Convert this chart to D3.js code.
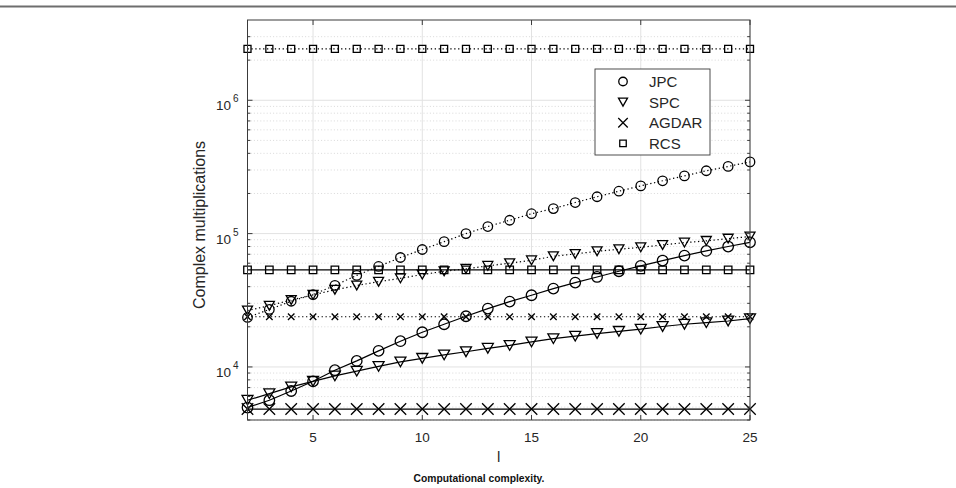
<!DOCTYPE html>
<html>
<head>
<meta charset="utf-8">
<script src="https://cdn.jsdelivr.net/npm/d3@7"></script>
<style>
    body { margin: 0; background: #fff; }
    svg { font-family: "Liberation Sans", Arial, sans-serif; }
    .grid-major { stroke: #e2e2e2; stroke-width: 1; }
    .grid-minor { stroke: #cfcfcf; stroke-width: 0.8; stroke-dasharray: 1, 2.2; }
    .frame { fill: none; stroke: #3a3a3a; stroke-width: 1; }
    .tick { stroke: #3a3a3a; stroke-width: 1; }
    .ticklabel { fill: #262626; font-size: 13.5px; }
    .label { fill: #262626; font-size: 15px; }
    .ylabel { fill: #262626; font-size: 16px; }
    .series { fill: none; stroke: #000; stroke-width: 1.2; }
    .dotted { stroke-dasharray: 1.3, 2.6; }
    .marker { fill: none; stroke: #000; stroke-width: 1.3; }
    .caption { font-size: 10.3px; font-weight: bold; fill: #111; }
</style>
</head>
<body>
<svg id="chart" width="956" height="488"></svg>
<script>
// number of paths l
const lValues = [2, 3, 4, 5, 6, 7, 8, 9, 10, 11, 12, 13, 14, 15, 16, 17, 18, 19, 20, 21, 22, 23, 24, 25];

// dotted curves (upper group)
const jpcDotted = [23500, 27000, 31100, 34900, 40900, 48600, 56700, 66200, 76000, 87000, 100000, 113000,
    126000, 141000, 154000, 171000, 189000, 208000, 228000, 249000, 271000, 296000, 319000, 345000];
const spcDotted = [26500, 28800, 31800, 34700, 37900, 40800, 43600, 46200, 49300, 52200, 54400, 57300,
    60000, 63000, 67600, 70400, 73700, 76300, 78900, 82200, 85600, 88200, 91700, 95000];
const agdarDotted = [23800, 23800, 23800, 23800, 23800, 23800, 23800, 23800, 23800, 23800, 23800, 23800,
    23800, 23800, 23800, 23800, 23800, 23800, 23800, 23800, 23800, 23800, 23800, 23800];
const rcsDotted = [2430000, 2430000, 2430000, 2430000, 2430000, 2430000, 2430000, 2430000, 2430000, 2430000,
    2430000, 2430000, 2430000, 2430000, 2430000, 2430000, 2430000, 2430000, 2430000, 2430000, 2430000,
    2430000, 2430000, 2430000];

// solid curves (lower group)
const jpcSolid = [4960, 5630, 6600, 7800, 9450, 11100, 13200, 15600, 18200, 20900, 24000, 27400,
    30900, 34500, 38700, 42900, 47300, 52200, 57300, 62800, 68400, 74200, 80000, 86000];
const spcSolid = [5630, 6300, 7080, 7800, 8570, 9300, 10100, 10900, 11600, 12300, 13000, 13800,
    14500, 15400, 16300, 17000, 17800, 18500, 19200, 20100, 20900, 21500, 22100, 23000];
const agdarSolid = [4830, 4830, 4830, 4830, 4830, 4830, 4830, 4830, 4830, 4830, 4830, 4830,
    4830, 4830, 4830, 4830, 4830, 4830, 4830, 4830, 4830, 4830, 4830, 4830];
const rcsSolid = [53400, 53400, 53400, 53400, 53400, 53400, 53400, 53400, 53400, 53400, 53400, 53400,
    53400, 53400, 53400, 53400, 53400, 53400, 53400, 53400, 53400, 53400, 53400, 53400];

const legendNames = ["JPC", "SPC", "AGDAR", "RCS"];
const xTicks = [5, 10, 15, 20, 25];
const yMajor = [1e4, 1e5, 1e6];
const yDomain = [4000, 4e6];

const attr = {
    left: 247.5,
    right: 750,
    top: 20,
    bottom: 420
};

const x = d3.scaleLinear().domain([2, 25]).range([attr.left, attr.right]);
const y = d3.scaleLog().domain(yDomain).range([attr.bottom, attr.top]);

const svg = d3.select("#chart");

// rule at top of figure
svg.append("line")
    .attr("x1", 0).attr("x2", 956)
    .attr("y1", 6.5).attr("y2", 6.5)
    .attr("stroke", "#6e6e6e")
    .attr("stroke-width", 2);

// minor tick values
let yMinor = [];
for (let e = 3; e <= 6; e++) {
    for (let m = 2; m <= 9; m++) {
        let v = m * Math.pow(10, e);
        if (v > yDomain[0] * 0.999 && v < yDomain[1]) yMinor.push(v);
    }
}

const grid = svg.append("g");

grid.selectAll(".gm")
    .data(yMinor)
    .enter()
    .append("line")
    .attr("class", "grid-minor")
    .attr("x1", attr.left).attr("x2", attr.right)
    .attr("y1", d => y(d)).attr("y2", d => y(d));

grid.selectAll(".gy")
    .data(yMajor)
    .enter()
    .append("line")
    .attr("class", "grid-major")
    .attr("x1", attr.left).attr("x2", attr.right)
    .attr("y1", d => y(d)).attr("y2", d => y(d));

grid.selectAll(".gx")
    .data(xTicks)
    .enter()
    .append("line")
    .attr("class", "grid-major")
    .attr("x1", d => x(d)).attr("x2", d => x(d))
    .attr("y1", attr.top).attr("y2", attr.bottom);

// series
const series = [
    { values: jpcDotted, dash: true, marker: "circle", size: 9.5 },
    { values: spcDotted, dash: true, marker: "triangle", size: 10 },
    { values: agdarDotted, dash: true, marker: "x", size: 6.5 },
    { values: rcsDotted, dash: true, marker: "square", size: 7 },
    { values: jpcSolid, dash: false, marker: "circle", size: 10.5 },
    { values: spcSolid, dash: false, marker: "triangle", size: 11 },
    { values: agdarSolid, dash: false, marker: "x", size: 11.5 },
    { values: rcsSolid, dash: false, marker: "square", size: 7.5 }
];

const markerPath = function(type, cx, cy, s) {
    let h = s / 2;
    if (type === "triangle") {
        let th = s * 0.88 / 2;
        return "M" + (cx - h) + "," + (cy - th) + "L" + (cx + h) + "," + (cy - th) +
            "L" + cx + "," + (cy + th) + "Z";
    }
    if (type === "x") {
        return "M" + (cx - h) + "," + (cy - h) + "L" + (cx + h) + "," + (cy + h) +
            "M" + (cx - h) + "," + (cy + h) + "L" + (cx + h) + "," + (cy - h);
    }
    // square
    return "M" + (cx - h) + "," + (cy - h) + "h" + s + "v" + s + "h" + -s + "Z";
};

const drawMarker = function(g, type, cx, cy, s) {
    if (type === "circle") {
        g.append("circle")
            .attr("class", "marker")
            .attr("cx", cx).attr("cy", cy).attr("r", s / 2);
    } else {
        g.append("path")
            .attr("class", "marker")
            .attr("d", markerPath(type, cx, cy, s));
    }
};

const line = d3.line()
    .x((d, i) => x(lValues[i]))
    .y(d => y(d));

const plot = svg.append("g");

series.forEach(function(s) {
    plot.append("path")
        .datum(s.values)
        .attr("class", s.dash ? "series dotted" : "series")
        .attr("d", line);
});

series.forEach(function(s) {
    let g = plot.append("g");
    s.values.forEach(function(v, i) {
        drawMarker(g, s.marker, x(lValues[i]), y(v), s.size);
    });
});

// frame and ticks
svg.append("rect")
    .attr("class", "frame")
    .attr("x", attr.left).attr("y", attr.top)
    .attr("width", attr.right - attr.left)
    .attr("height", attr.bottom - attr.top);

const ticks = svg.append("g");
const addTick = function(x1, y1, x2, y2) {
    ticks.append("line").attr("class", "tick")
        .attr("x1", x1).attr("y1", y1).attr("x2", x2).attr("y2", y2);
};

xTicks.forEach(function(t) {
    addTick(x(t), attr.bottom, x(t), attr.bottom - 5);
    addTick(x(t), attr.top, x(t), attr.top + 5);
});
yMajor.forEach(function(t) {
    addTick(attr.left, y(t), attr.left + 5, y(t));
    addTick(attr.right, y(t), attr.right - 5, y(t));
});
yMinor.forEach(function(t) {
    addTick(attr.left, y(t), attr.left + 2.8, y(t));
    addTick(attr.right, y(t), attr.right - 2.8, y(t));
});

// tick labels
svg.append("g")
    .selectAll("text")
    .data(xTicks)
    .enter()
    .append("text")
    .attr("class", "ticklabel")
    .attr("x", d => x(d))
    .attr("y", attr.bottom + 22)
    .attr("text-anchor", "middle")
    .text(d => d);

let yl = svg.append("g")
    .selectAll("text")
    .data(yMajor)
    .enter()
    .append("text")
    .attr("class", "ticklabel")
    .attr("x", attr.left - 9)
    .attr("y", d => y(d) + 10)
    .attr("text-anchor", "end");
yl.append("tspan").text("10");
yl.append("tspan")
    .attr("dx", 2)
    .attr("dy", -8)
    .attr("font-size", "10px")
    .text(d => Math.round(Math.log10(d)));

// axis labels
svg.append("text")
    .attr("class", "ylabel")
    .attr("transform", "translate(205," + ((attr.top + attr.bottom) / 2 + 5) + ") rotate(-90)")
    .attr("text-anchor", "middle")
    .text("Complex multiplications");

svg.append("text")
    .attr("class", "label")
    .attr("x", (attr.left + attr.right) / 2)
    .attr("y", 462)
    .attr("text-anchor", "middle")
    .text("l");

svg.append("text")
    .attr("class", "caption")
    .attr("x", 479)
    .attr("y", 482)
    .attr("text-anchor", "middle")
    .text("Computational complexity.");

// legend
const legend = svg.append("g");
legend.append("rect")
    .attr("x", 595).attr("y", 69)
    .attr("width", 115).attr("height", 86)
    .attr("fill", "#fff")
    .attr("stroke", "#3a3a3a")
    .attr("stroke-width", 0.9);

const legendMarkers = ["circle", "triangle", "x", "square"];
const legendSizes = [8.5, 9, 9.5, 6.5];
legendNames.forEach(function(name, i) {
    let ly = 81.5 + i * 20.6;
    drawMarker(legend, legendMarkers[i], 623, ly, legendSizes[i]);
    legend.append("text")
        .attr("class", "label")
        .attr("x", 649)
        .attr("y", ly + 5.5)
        .text(name);
});
</script>
</body>
</html>
